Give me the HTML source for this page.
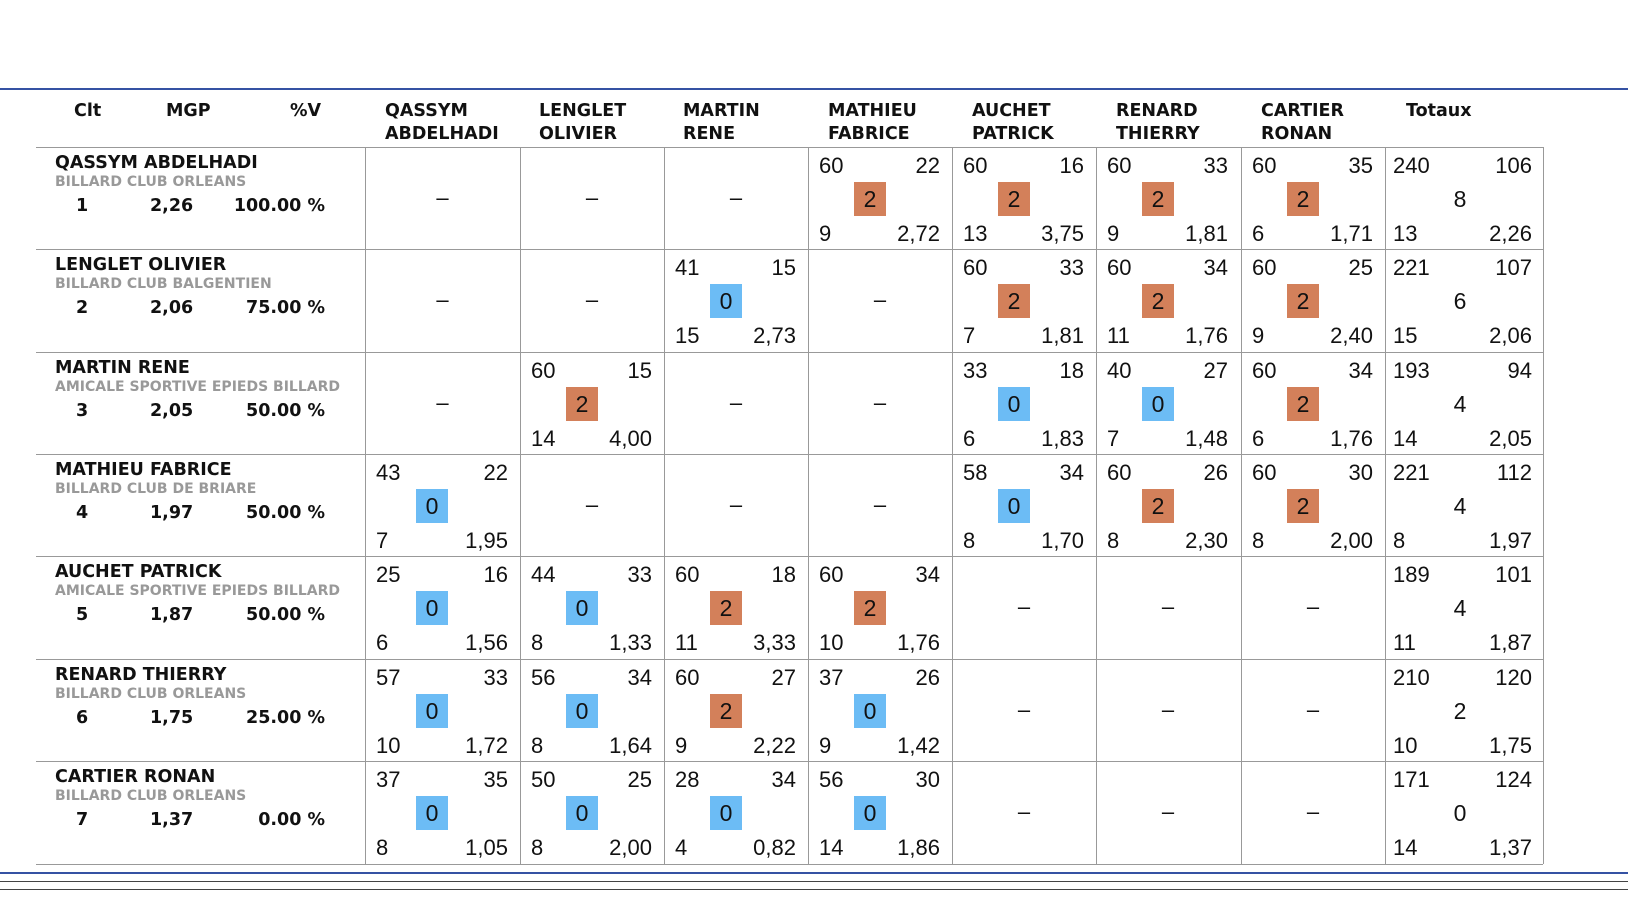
<!DOCTYPE html>
<html><head><meta charset="utf-8"><style>
html,body{margin:0;padding:0;background:#fff;width:1628px;height:912px;overflow:hidden;position:relative}
.ln{position:absolute;left:0;width:1628px;height:1px}
.h{position:absolute;font:bold 17.5px/23px "DejaVu Sans",sans-serif;color:#111;top:100px}
.hl{position:absolute;height:1px;background:#999;left:36px;width:1507px}
.vl{position:absolute;width:1px;background:#999;top:147px;height:717px}
.r{position:absolute;left:0;width:365px;height:102px}
.nm{position:absolute;left:55px;top:6px;font:bold 17.5px/20px "DejaVu Sans",sans-serif;color:#111;white-space:nowrap}
.cl{position:absolute;left:55px;top:27px;font:bold 14px/16px "DejaVu Sans",sans-serif;color:#999;white-space:nowrap}
.k{position:absolute;top:49px;font:bold 17.5px/20px "DejaVu Sans",sans-serif;color:#111;white-space:nowrap}
.c{position:absolute;width:144px;height:102px;font:22px/25px "Liberation Sans",sans-serif;color:#111}
.c span{position:absolute}
.a{left:11px;top:6px}.b{right:12px;top:6px}.e{left:11px;top:74px}.f{right:12px;top:74px}
.t .a,.t .e{left:8px}.t .b,.t .f{right:11px}
.m{position:absolute;left:46px;top:35px;width:32px;height:34px;line-height:34px;text-align:center;font-size:23px}
.o{background:#d3805a}.u{background:#6cbcf5}
.d{left:0;width:144px;text-align:center;top:38px}
.t{width:158px}
.t .m{left:0;width:150px}
.w{width:155px}.w .m{left:51px}.w .d{width:155px}
</style></head><body>
<div class="ln" style="top:88px;background:#3552a3;height:1.5px"></div>
<div class="ln" style="top:872px;background:#3552a3;height:1.5px"></div>
<div class="ln" style="top:881px;background:#444"></div>
<div class="ln" style="top:889px;background:#444"></div>

<div class="h" style="left:74px;top:100px">Clt</div>
<div class="h" style="left:166px;top:100px">MGP</div>
<div class="h" style="left:290px;top:100px">%V</div>
<div class="h" style="left:385px">QASSYM<br>ABDELHADI</div>
<div class="h" style="left:539px">LENGLET<br>OLIVIER</div>
<div class="h" style="left:683px">MARTIN<br>RENE</div>
<div class="h" style="left:828px">MATHIEU<br>FABRICE</div>
<div class="h" style="left:972px">AUCHET<br>PATRICK</div>
<div class="h" style="left:1116px">RENARD<br>THIERRY</div>
<div class="h" style="left:1261px">CARTIER<br>RONAN</div>
<div class="h" style="left:1406px;top:100px">Totaux</div>

<div class="hl" style="top:147px"></div><div class="hl" style="top:249px"></div><div class="hl" style="top:352px"></div><div class="hl" style="top:454px"></div><div class="hl" style="top:556px"></div><div class="hl" style="top:659px"></div><div class="hl" style="top:761px"></div><div class="hl" style="top:864px"></div>
<div class="vl" style="left:365px"></div><div class="vl" style="left:520px"></div><div class="vl" style="left:664px"></div><div class="vl" style="left:808px"></div><div class="vl" style="left:952px"></div><div class="vl" style="left:1096px"></div><div class="vl" style="left:1241px"></div><div class="vl" style="left:1385px"></div><div class="vl" style="left:1543px"></div>

<div class="r" style="top:147px"><div class="nm">QASSYM ABDELHADI</div><div class="cl">BILLARD CLUB ORLEANS</div><div class="k" style="left:76px">1</div><div class="k" style="left:150px">2,26</div><div class="k" style="right:40px">100.00 %</div></div>
<div class="r" style="top:249px"><div class="nm">LENGLET OLIVIER</div><div class="cl">BILLARD CLUB BALGENTIEN</div><div class="k" style="left:76px">2</div><div class="k" style="left:150px">2,06</div><div class="k" style="right:40px">75.00 %</div></div>
<div class="r" style="top:352px"><div class="nm">MARTIN RENE</div><div class="cl">AMICALE SPORTIVE EPIEDS BILLARD</div><div class="k" style="left:76px">3</div><div class="k" style="left:150px">2,05</div><div class="k" style="right:40px">50.00 %</div></div>
<div class="r" style="top:454px"><div class="nm">MATHIEU FABRICE</div><div class="cl">BILLARD CLUB DE BRIARE</div><div class="k" style="left:76px">4</div><div class="k" style="left:150px">1,97</div><div class="k" style="right:40px">50.00 %</div></div>
<div class="r" style="top:556px"><div class="nm">AUCHET PATRICK</div><div class="cl">AMICALE SPORTIVE EPIEDS BILLARD</div><div class="k" style="left:76px">5</div><div class="k" style="left:150px">1,87</div><div class="k" style="right:40px">50.00 %</div></div>
<div class="r" style="top:659px"><div class="nm">RENARD THIERRY</div><div class="cl">BILLARD CLUB ORLEANS</div><div class="k" style="left:76px">6</div><div class="k" style="left:150px">1,75</div><div class="k" style="right:40px">25.00 %</div></div>
<div class="r" style="top:761px"><div class="nm">CARTIER RONAN</div><div class="cl">BILLARD CLUB ORLEANS</div><div class="k" style="left:76px">7</div><div class="k" style="left:150px">1,37</div><div class="k" style="right:40px">0.00 %</div></div>

<div class="c w" style="left:365px;top:147px"><span class="d">–</span></div>
<div class="c" style="left:520px;top:147px"><span class="d">–</span></div>
<div class="c" style="left:664px;top:147px"><span class="d">–</span></div>
<div class="c" style="left:808px;top:147px"><span class="a">60</span><span class="b">22</span><span class="m o">2</span><span class="e">9</span><span class="f">2,72</span></div>
<div class="c" style="left:952px;top:147px"><span class="a">60</span><span class="b">16</span><span class="m o">2</span><span class="e">13</span><span class="f">3,75</span></div>
<div class="c" style="left:1096px;top:147px"><span class="a">60</span><span class="b">33</span><span class="m o">2</span><span class="e">9</span><span class="f">1,81</span></div>
<div class="c" style="left:1241px;top:147px"><span class="a">60</span><span class="b">35</span><span class="m o">2</span><span class="e">6</span><span class="f">1,71</span></div>
<div class="c t" style="left:1385px;top:147px"><span class="a">240</span><span class="b">106</span><span class="m">8</span><span class="e">13</span><span class="f">2,26</span></div>

<div class="c w" style="left:365px;top:249px"><span class="d">–</span></div>
<div class="c" style="left:520px;top:249px"><span class="d">–</span></div>
<div class="c" style="left:664px;top:249px"><span class="a">41</span><span class="b">15</span><span class="m u">0</span><span class="e">15</span><span class="f">2,73</span></div>
<div class="c" style="left:808px;top:249px"><span class="d">–</span></div>
<div class="c" style="left:952px;top:249px"><span class="a">60</span><span class="b">33</span><span class="m o">2</span><span class="e">7</span><span class="f">1,81</span></div>
<div class="c" style="left:1096px;top:249px"><span class="a">60</span><span class="b">34</span><span class="m o">2</span><span class="e">11</span><span class="f">1,76</span></div>
<div class="c" style="left:1241px;top:249px"><span class="a">60</span><span class="b">25</span><span class="m o">2</span><span class="e">9</span><span class="f">2,40</span></div>
<div class="c t" style="left:1385px;top:249px"><span class="a">221</span><span class="b">107</span><span class="m">6</span><span class="e">15</span><span class="f">2,06</span></div>

<div class="c w" style="left:365px;top:352px"><span class="d">–</span></div>
<div class="c" style="left:520px;top:352px"><span class="a">60</span><span class="b">15</span><span class="m o">2</span><span class="e">14</span><span class="f">4,00</span></div>
<div class="c" style="left:664px;top:352px"><span class="d">–</span></div>
<div class="c" style="left:808px;top:352px"><span class="d">–</span></div>
<div class="c" style="left:952px;top:352px"><span class="a">33</span><span class="b">18</span><span class="m u">0</span><span class="e">6</span><span class="f">1,83</span></div>
<div class="c" style="left:1096px;top:352px"><span class="a">40</span><span class="b">27</span><span class="m u">0</span><span class="e">7</span><span class="f">1,48</span></div>
<div class="c" style="left:1241px;top:352px"><span class="a">60</span><span class="b">34</span><span class="m o">2</span><span class="e">6</span><span class="f">1,76</span></div>
<div class="c t" style="left:1385px;top:352px"><span class="a">193</span><span class="b">94</span><span class="m">4</span><span class="e">14</span><span class="f">2,05</span></div>

<div class="c w" style="left:365px;top:454px"><span class="a">43</span><span class="b">22</span><span class="m u">0</span><span class="e">7</span><span class="f">1,95</span></div>
<div class="c" style="left:520px;top:454px"><span class="d">–</span></div>
<div class="c" style="left:664px;top:454px"><span class="d">–</span></div>
<div class="c" style="left:808px;top:454px"><span class="d">–</span></div>
<div class="c" style="left:952px;top:454px"><span class="a">58</span><span class="b">34</span><span class="m u">0</span><span class="e">8</span><span class="f">1,70</span></div>
<div class="c" style="left:1096px;top:454px"><span class="a">60</span><span class="b">26</span><span class="m o">2</span><span class="e">8</span><span class="f">2,30</span></div>
<div class="c" style="left:1241px;top:454px"><span class="a">60</span><span class="b">30</span><span class="m o">2</span><span class="e">8</span><span class="f">2,00</span></div>
<div class="c t" style="left:1385px;top:454px"><span class="a">221</span><span class="b">112</span><span class="m">4</span><span class="e">8</span><span class="f">1,97</span></div>

<div class="c w" style="left:365px;top:556px"><span class="a">25</span><span class="b">16</span><span class="m u">0</span><span class="e">6</span><span class="f">1,56</span></div>
<div class="c" style="left:520px;top:556px"><span class="a">44</span><span class="b">33</span><span class="m u">0</span><span class="e">8</span><span class="f">1,33</span></div>
<div class="c" style="left:664px;top:556px"><span class="a">60</span><span class="b">18</span><span class="m o">2</span><span class="e">11</span><span class="f">3,33</span></div>
<div class="c" style="left:808px;top:556px"><span class="a">60</span><span class="b">34</span><span class="m o">2</span><span class="e">10</span><span class="f">1,76</span></div>
<div class="c" style="left:952px;top:556px"><span class="d">–</span></div>
<div class="c" style="left:1096px;top:556px"><span class="d">–</span></div>
<div class="c" style="left:1241px;top:556px"><span class="d">–</span></div>
<div class="c t" style="left:1385px;top:556px"><span class="a">189</span><span class="b">101</span><span class="m">4</span><span class="e">11</span><span class="f">1,87</span></div>

<div class="c w" style="left:365px;top:659px"><span class="a">57</span><span class="b">33</span><span class="m u">0</span><span class="e">10</span><span class="f">1,72</span></div>
<div class="c" style="left:520px;top:659px"><span class="a">56</span><span class="b">34</span><span class="m u">0</span><span class="e">8</span><span class="f">1,64</span></div>
<div class="c" style="left:664px;top:659px"><span class="a">60</span><span class="b">27</span><span class="m o">2</span><span class="e">9</span><span class="f">2,22</span></div>
<div class="c" style="left:808px;top:659px"><span class="a">37</span><span class="b">26</span><span class="m u">0</span><span class="e">9</span><span class="f">1,42</span></div>
<div class="c" style="left:952px;top:659px"><span class="d">–</span></div>
<div class="c" style="left:1096px;top:659px"><span class="d">–</span></div>
<div class="c" style="left:1241px;top:659px"><span class="d">–</span></div>
<div class="c t" style="left:1385px;top:659px"><span class="a">210</span><span class="b">120</span><span class="m">2</span><span class="e">10</span><span class="f">1,75</span></div>

<div class="c w" style="left:365px;top:761px"><span class="a">37</span><span class="b">35</span><span class="m u">0</span><span class="e">8</span><span class="f">1,05</span></div>
<div class="c" style="left:520px;top:761px"><span class="a">50</span><span class="b">25</span><span class="m u">0</span><span class="e">8</span><span class="f">2,00</span></div>
<div class="c" style="left:664px;top:761px"><span class="a">28</span><span class="b">34</span><span class="m u">0</span><span class="e">4</span><span class="f">0,82</span></div>
<div class="c" style="left:808px;top:761px"><span class="a">56</span><span class="b">30</span><span class="m u">0</span><span class="e">14</span><span class="f">1,86</span></div>
<div class="c" style="left:952px;top:761px"><span class="d">–</span></div>
<div class="c" style="left:1096px;top:761px"><span class="d">–</span></div>
<div class="c" style="left:1241px;top:761px"><span class="d">–</span></div>
<div class="c t" style="left:1385px;top:761px"><span class="a">171</span><span class="b">124</span><span class="m">0</span><span class="e">14</span><span class="f">1,37</span></div>
</body></html>
